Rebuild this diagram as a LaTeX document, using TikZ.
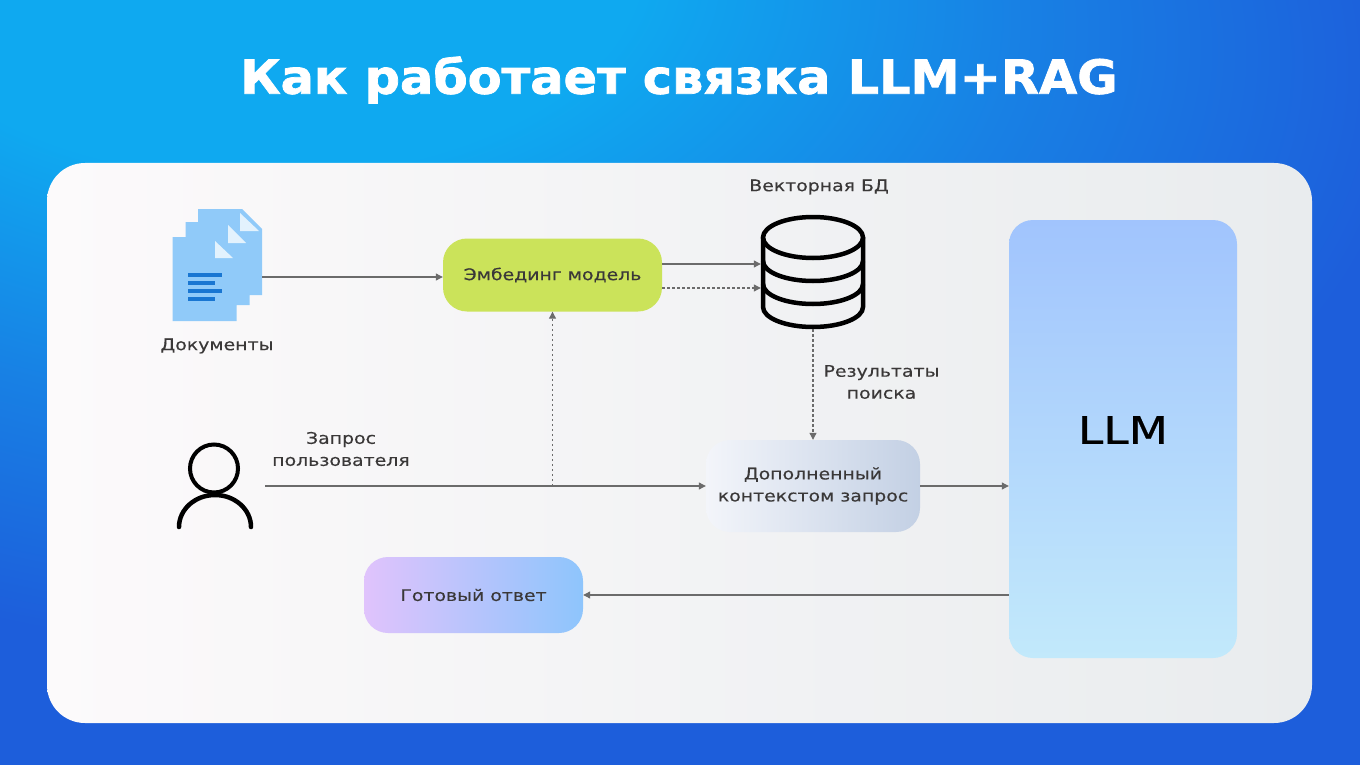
\documentclass[tikz,border=0pt]{standalone}
\usepackage{fontspec}
\setmainfont[FakeStretch=1.18,FakeBold=0.3]{DejaVu Sans}
\newfontfamily\titlefont[FakeStretch=1.05,FakeBold=1.6]{DejaVu Sans Bold}
\newfontfamily\llmfont[FakeStretch=1.2,FakeBold=0.6]{DejaVu Sans}
\usetikzlibrary{arrows.meta,shadings}
\definecolor{linegray}{HTML}{6B6B6B}
\definecolor{labelgray}{HTML}{3A3838}
\definecolor{pagefill}{HTML}{90CAF9}
\definecolor{foldfill}{HTML}{E3F2FD}
\definecolor{rowfill}{HTML}{1976D2}
\definecolor{skyA}{HTML}{0FA9F0}
\definecolor{skyB}{HTML}{1880E4}
\definecolor{skyC}{HTML}{1D5EDB}
\definecolor{panelL}{HTML}{FCFAFB}
\definecolor{panelR}{HTML}{E9ECEE}
\definecolor{embfill}{HTML}{CBE35A}
\definecolor{ctxL}{HTML}{F3F5FA}
\definecolor{ctxR}{HTML}{C3D0E4}
\definecolor{ansL}{HTML}{E0C3FC}
\definecolor{ansR}{HTML}{8EC5FC}
\definecolor{llmT}{HTML}{A1C4FD}
\definecolor{llmB}{HTML}{C2E9FB}
\pgfdeclareradialshading{backshade}{\pgfpoint{-18bp}{32bp}}{
  color(0bp)=(skyA);
  color(14bp)=(skyA);
  color(26bp)=(skyB);
  color(38bp)=(skyC);
  color(100bp)=(skyC)}
\begin{document}
\begin{tikzpicture}[
    x=1pt, y=-1pt,
    box/.style={rectangle, rounded corners=24pt, minimum width=219pt, minimum height=73pt, align=center, text=labelgray, font=\fontsize{16}{22}\selectfont},
    label/.style={align=center, text=labelgray, font=\fontsize{16}{22}\selectfont},
    arrow/.style={-{Triangle[length=7pt,width=7pt]}, line width=1.1pt, linegray},
    dasharrow/.style={arrow, dash pattern=on 2.5pt off 2.5pt},
    icon/.style={line width=4.5pt, black},
    page/.style={fill=pagefill},
    fold/.style={fill=foldfill},
    row/.style={fill=rowfill}
]
\useasboundingbox (0,0) rectangle (1360,765);
\fill[shading=backshade] (0,0) rectangle (1360,765);
\node[rectangle, rounded corners=38pt, minimum width=1265pt, minimum height=560pt, left color=panelL, right color=panelR] (panel) at (679.5,443) {};

\node[text=white, font=\titlefont\fontsize{47}{47}\selectfont] (title) at (679,80) {Как работает связка LLM+RAG};

\fill[page] (198,209) -- (242,209) -- (262,229) -- (262,295) -- (249.5,295) -- (249.5,305) -- (236.7,305) -- (236.7,321) -- (172.5,321) -- (172.5,237) -- (185.5,237) -- (185.5,222) -- (198,222) -- cycle;
\fill[fold] (240,213) -- (240,231) -- (259,231) -- cycle;
\fill[fold] (228,225) -- (228,243) -- (246,243) -- cycle;
\fill[fold] (215,241) -- (215,258) -- (233,258) -- cycle;
\fill[row] (188,273) rectangle (222,277);
\fill[row] (188,281) rectangle (215,285);
\fill[row] (188,289) rectangle (222,293);
\fill[row] (188,297) rectangle (215,301);
\coordinate (docs) at (262,277);
\node[label] (docslabel) at (217,346) {Документы};

\node[box, fill=embfill] (emb) at (552.5,275) {Эмбединг модель};
\node[label] (dblabel) at (819,187) {Векторная БД};

\node[minimum width=104pt, minimum height=114pt] (db) at (813,272) {};
\draw[icon] (813,237.5) ellipse (50 and 20.5);
\draw[icon] (763,237.5) -- (763,307) arc[start angle=180, end angle=0, x radius=50, y radius=20] -- (863,237.5);
\draw[icon] (763,261) arc[start angle=180, end angle=0, x radius=50, y radius=20];
\draw[icon] (763,284) arc[start angle=180, end angle=0, x radius=50, y radius=20];

\node[label] (resultlabel) at (881.5,382) {Результаты\\поиска};
\node[label] (querylabel) at (341,449) {Запрос\\пользователя};

\draw[line width=4pt, black] (214,468.5) circle (24);
\draw[line width=4.5pt, black, line cap=round] (179,527) arc[start angle=180, end angle=360, x radius=36, y radius=32];
\coordinate (user) at (265,486);
\coordinate (branch) at (552.5,486);

\node[box, minimum width=214pt, minimum height=92pt, left color=ctxL, right color=ctxR] (ctx) at (813,486) {Дополненный\\контекстом запрос};
\node[box, minimum height=76pt, left color=ansL, right color=ansR] (answer) at (473.5,595) {Готовый ответ};
\node[box, minimum width=228pt, minimum height=438pt, top color=llmT, bottom color=llmB, font=\llmfont\fontsize{38}{38}\selectfont, text=black] (llm) at (1123,439) {\raisebox{18pt}{LLM}};

\draw[arrow] (docs) -- (docs -| emb.west);
\draw[arrow] ([yshift=11pt]emb.east) -- ([yshift=8pt]db.west);
\draw[dasharrow] ([yshift=-13pt]emb.east) -- ([yshift=-16pt]db.west);
\draw[dasharrow] (db.south) -- (ctx.north);
\draw[arrow] (user) -- (ctx.west);
\draw[dasharrow] (branch) -- (emb.south);
\draw[arrow] (ctx.east) -- (ctx.east -| llm.west);
\draw[arrow] (answer.east -| llm.west) -- (answer.east);
\end{tikzpicture}
\end{document}
